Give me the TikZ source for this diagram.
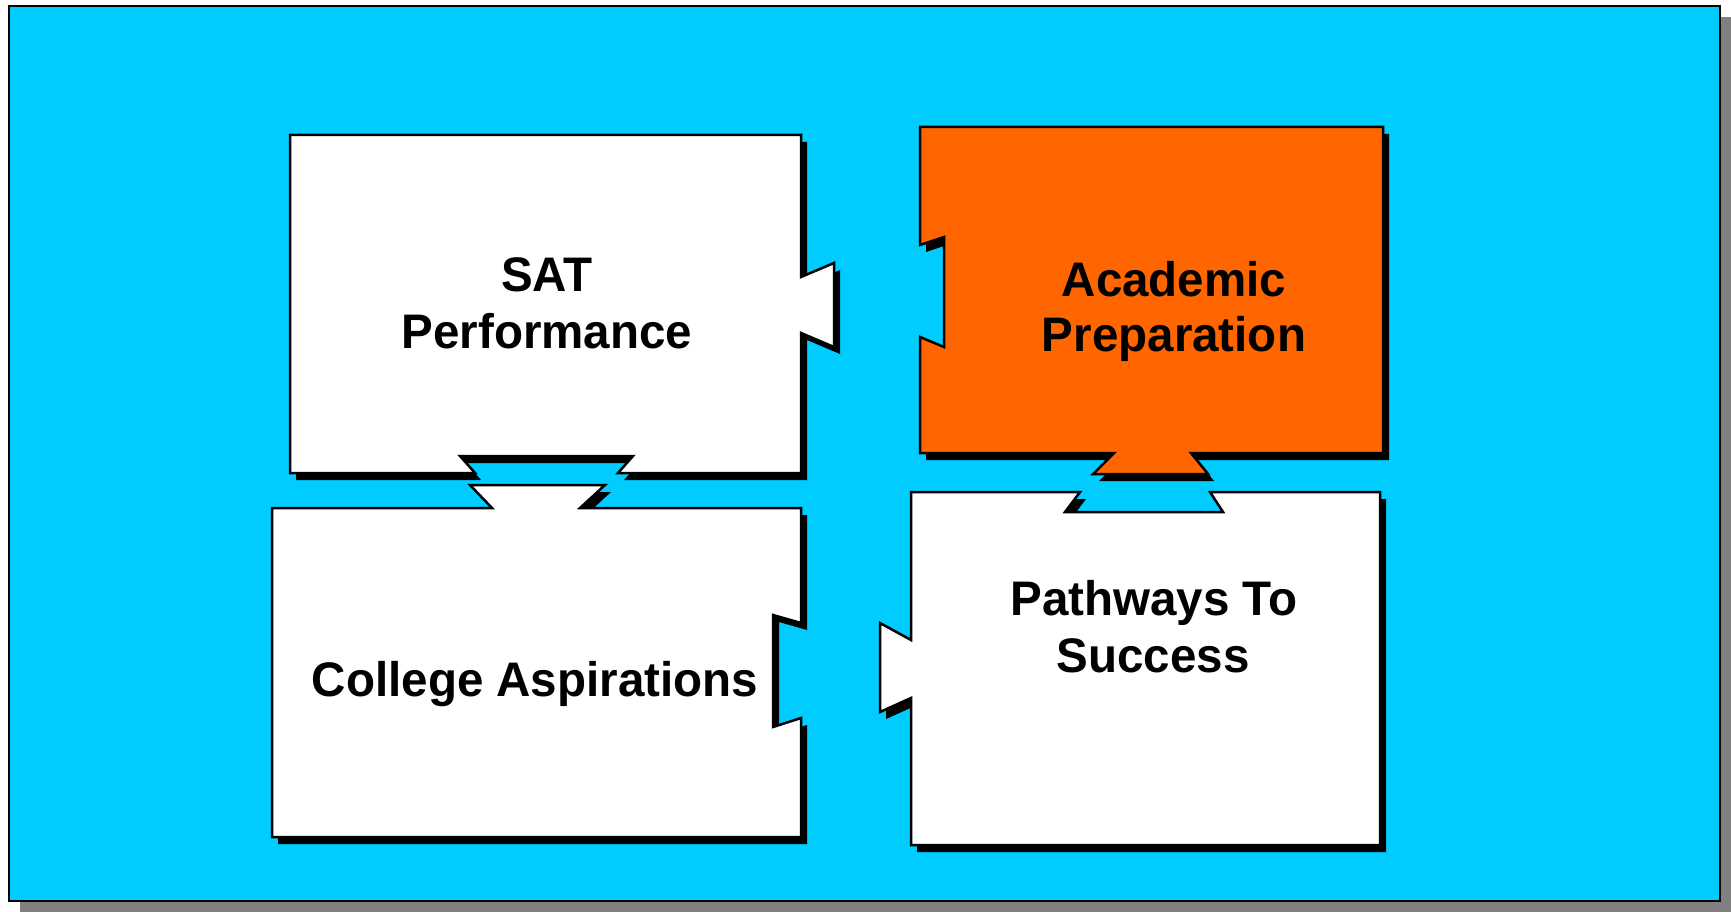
\documentclass[tikz,border=0pt]{standalone}
\usepackage{fontspec}
\newfontfamily\labelfont{Liberation Sans}[FakeStretch=0.98]
\definecolor{skybg}{HTML}{00CCFF}
\definecolor{orangepiece}{HTML}{FF6600}
\definecolor{shadowgray}{HTML}{808080}
\newcommand\pathSAT{(290,135) -- (801,135) -- (801,277) -- (834,263) -- (834,347) -- (801,333) -- (801,473) -- (618,473) -- (633,456) -- (460,456) -- (475,473) -- (290,473) -- cycle}
\newcommand\pathACA{(920,127) -- (1383,127) -- (1383,453) -- (1191,453) -- (1208,474) -- (1093,474) -- (1114,453) -- (920,453) -- (920,337) -- (944,347) -- (944,237) -- (920,245) -- cycle}
\newcommand\pathCOL{(272,508) -- (492,508) -- (470,485) -- (605,485) -- (580,508) -- (801,508) -- (801,623) -- (773,615) -- (773,727) -- (801,718) -- (801,837) -- (272,837) -- cycle}
\newcommand\pathPTS{(911,492) -- (1080,492) -- (1065,512) -- (1223,512) -- (1210,492) -- (1380,492) -- (1380,845) -- (911,845) -- (911,698) -- (880,712) -- (880,623) -- (911,640) -- cycle}
\begin{document}
\begin{tikzpicture}[x=1pt,y=-1pt,
  piece/.style={draw=black, line width=2.5pt, line join=miter},
  pieceshadow/.style={fill=black, shift={(6,7)}},
  label/.style={font=\labelfont\bfseries\fontsize{48.5}{56.6}\selectfont, anchor=base, inner sep=0pt, text=black}]
\useasboundingbox[fill=white] (0,0) rectangle (1731,912);
% background panel
\fill[shadowgray] (20,17) rectangle (1731,912);
\filldraw[fill=skybg, draw=black, line width=2.5pt] (9,6) rectangle (1720,901);
% shadows
\fill[pieceshadow] \pathSAT;
\fill[pieceshadow] \pathACA;
\fill[pieceshadow] \pathCOL;
\fill[pieceshadow] \pathPTS;
% pieces
\filldraw[piece, fill=white] \pathSAT;
\filldraw[piece, fill=orangepiece] \pathACA;
\filldraw[piece, fill=white] \pathCOL;
\filldraw[piece, fill=white] \pathPTS;
% labels
\node[label] (sat1) at (547,291.7) {SAT};
\node[label] (sat2) at (547,348.3) {Performance};
\node[label] (aca1) at (1174,296) {Academic};
\node[label] (aca2) at (1174,351) {Preparation};
\node[label] (col1) at (535,696.7) {College Aspirations};
\node[label] (pts1) at (1154,615) {Pathways To};
\node[label] (pts2) at (1153,672) {Success};
\end{tikzpicture}
\end{document}
